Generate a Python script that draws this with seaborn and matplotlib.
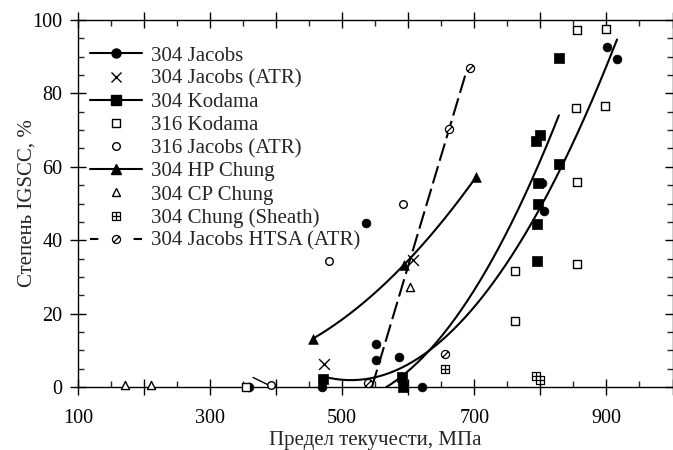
import numpy as np
import matplotlib
matplotlib.use("Agg")
import matplotlib.pyplot as plt
import seaborn as sns
from matplotlib.path import Path
from matplotlib.lines import Line2D
from matplotlib.ticker import FixedLocator, MultipleLocator, FuncFormatter

# ---------------- data ----------------
j304_x = [359, 469, 536, 551, 551, 586, 621, 805, 803, 901, 916]
j304_y = [0, 0, 44.8, 11.6, 7.4, 8.3, 0, 48.0, 55.7, 92.6, 89.5]

j304atr_x = [473, 607]
j304atr_y = [6.3, 34.6]

k304_x = [471, 590, 592, 795, 795, 796, 796, 794, 800, 828, 828]
k304_y = [2.2, 2.6, 0, 34.4, 44.4, 50.0, 55.7, 66.9, 68.7, 60.8, 89.7]

k316_x = [355, 762, 762, 855, 855, 855, 854, 899, 898]
k316_y = [0, 31.6, 18.0, 55.8, 33.4, 97.4, 75.9, 97.6, 76.6]

j316atr_x = [392, 480, 592]
j316atr_y = [0.6, 34.4, 49.8]

hp_x = [456, 593, 703]
hp_y = [13.2, 33.2, 57.3]

cp_x = [171, 211, 602]
cp_y = [0.5, 0.5, 27.3]

sheath_x = [656, 794, 799]
sheath_y = [5.0, 2.9, 1.8]

htsa_x = [539, 656, 662, 693]
htsa_y = [1.1, 9.1, 70.3, 86.9]

# trend curves
fitA_x = [476, 537, 592, 642, 801, 844, 916]
fitA_y = [2.2, 2.7, 5.4, 11.8, 48.4, 64.6, 95.0]
fitB_x = [566, 642, 766, 806, 828]
fitB_y = [0, 11.8, 48.4, 64.6, 73.7]
htsa_fit_x = [545, 688]
htsa_fit_y = [0, 86]
seg_x = [365, 390]
seg_y = [2.6, 0.4]

labels = ["304 Jacobs", "304 Jacobs (ATR)", "304 Kodama", "316 Kodama",
          "316 Jacobs (ATR)", "304 HP Chung", "304 CP Chung",
          "304 Chung (Sheath)", "304 Jacobs HTSA (ATR)"]

# ---------------- style ----------------
sns.set_style("ticks")
plt.rcParams["font.family"] = ["Liberation Serif", "DejaVu Serif"]
plt.rcParams["lines.scale_dashes"] = False
plt.rcParams["axes.linewidth"] = 1.0

fig = plt.figure(figsize=(6.73, 4.5), dpi=100)
L, R, T, B = 78, 672.5, 20.0, 387.0
ax = fig.add_axes([L / 673, 1 - B / 450, (R - L) / 673, (B - T) / 450])

# custom markers
sq_plus = Path([(-1, -1), (1, -1), (1, 1), (-1, 1), (-1, -1),
                (0, -1), (0, 1), (-1, 0), (1, 0)],
               [Path.MOVETO, Path.LINETO, Path.LINETO, Path.LINETO, Path.CLOSEPOLY,
                Path.MOVETO, Path.LINETO, Path.MOVETO, Path.LINETO])
slash_circ = Path.make_compound_path(
    Path.unit_circle(),
    Path([(-0.72, -0.72), (0.72, 0.72)], [Path.MOVETO, Path.LINETO]))

lw_curve = 1.5
black = "black"


def curve(xs, ys, deg=2, n=200):
    c = np.polyfit(xs, ys, deg)
    xx = np.linspace(min(xs), max(xs), n)
    return xx, np.polyval(c, xx)


# ---------------- curves ----------------
xa, ya = curve(fitA_x, fitA_y)
sns.lineplot(x=xa, y=ya, sort=False, estimator=None, color=black, lw=lw_curve, ax=ax, zorder=2)
xb, yb = curve(fitB_x, fitB_y)
sns.lineplot(x=xb, y=yb, sort=False, estimator=None, color=black, lw=lw_curve, ax=ax, zorder=2)
xh, yh = curve(hp_x, hp_y)
sns.lineplot(x=xh, y=yh, sort=False, estimator=None, color=black, lw=lw_curve, ax=ax, zorder=2)
sns.lineplot(x=htsa_fit_x, y=htsa_fit_y, sort=False, estimator=None, color=black,
             lw=lw_curve, linestyle=(0, (13, 4)), ax=ax, zorder=2)
sns.lineplot(x=seg_x, y=seg_y, sort=False, estimator=None, color=black, lw=1.0, ax=ax, zorder=2)

# ---------------- points ----------------
common = dict(ax=ax, clip_on=False, legend=False)
sns.scatterplot(x=j304_x, y=j304_y, marker="o", s=40, color=black, edgecolor=black,
                linewidth=0.5, zorder=3, **common)
sns.scatterplot(x=k304_x, y=k304_y, marker="s", s=44, color=black, edgecolor=black,
                linewidth=0.5, zorder=3, **common)
sns.scatterplot(x=hp_x, y=hp_y, marker="^", s=48, color=black, edgecolor=black,
                linewidth=0.5, zorder=3, **common)
sns.scatterplot(x=j304atr_x, y=j304atr_y, marker="x", s=60, color=black,
                linewidth=1.0, zorder=4, **common)
sns.scatterplot(x=k316_x, y=k316_y, marker="s", s=34, facecolor="white", edgecolor=black,
                linewidth=1.0, zorder=4, **common)
sns.scatterplot(x=j316atr_x, y=j316atr_y, marker="o", s=30, facecolor="white", edgecolor=black,
                linewidth=1.0, zorder=4, **common)
sns.scatterplot(x=cp_x, y=cp_y, marker="^", s=34, facecolor="white", edgecolor=black,
                linewidth=1.0, zorder=4, **common)
sns.scatterplot(x=sheath_x, y=sheath_y, marker=sq_plus, s=34, facecolor="white", edgecolor=black,
                linewidth=0.9, zorder=4, **common)
sns.scatterplot(x=htsa_x, y=htsa_y, marker=slash_circ, s=34, facecolor="white", edgecolor=black,
                linewidth=0.9, zorder=4, **common)

# ---------------- axes ----------------
ax.set_xlim(100, 1000)
ax.set_ylim(0, 100)
ax.xaxis.set_major_locator(FixedLocator(np.arange(100, 1001, 100)))
ax.xaxis.set_minor_locator(FixedLocator(np.arange(150, 1000, 100)))
ax.xaxis.set_major_formatter(FuncFormatter(
    lambda v, p: f"{int(round(v))}" if int(round(v)) % 200 == 100 and v < 1000 else ""))
ax.yaxis.set_major_locator(MultipleLocator(20))
ax.yaxis.set_minor_locator(MultipleLocator(5))
ax.tick_params(which="major", direction="inout", length=12, width=1.0,
               top=True, right=True, labelsize=14.5, colors=black)
ax.tick_params(which="minor", direction="in", length=4.5, width=1.0,
               top=True, right=True)
ax.tick_params(axis="x", which="major", pad=9.5)
ax.tick_params(axis="y", which="major", pad=5)
for sp in ax.spines.values():
    sp.set_visible(True)
    sp.set_color(black)
    sp.set_linewidth(1.0)

ax.set_xlabel("Предел текучести, МПа", fontsize=15, labelpad=2.5)
ax.set_ylabel("Степень IGSCC, %", fontsize=15, labelpad=-3)

# ---------------- legend ----------------
mk = dict(color=black, markersize=6.5)
handles = [
    Line2D([], [], marker="o", linestyle="-", lw=lw_curve, markerfacecolor=black, **mk),
    Line2D([], [], marker="x", linestyle="none", mew=1.0, **mk),
    Line2D([], [], marker="s", linestyle="-", lw=lw_curve, markerfacecolor=black, **mk),
    Line2D([], [], marker="s", linestyle="none", markerfacecolor="white", mew=1.0, color=black, markersize=5.8),
    Line2D([], [], marker="o", linestyle="none", markerfacecolor="white", mew=1.0, color=black, markersize=5.5),
    Line2D([], [], marker="^", linestyle="-", lw=lw_curve, markerfacecolor=black, **mk),
    Line2D([], [], marker="^", linestyle="none", markerfacecolor="white", mew=1.0, color=black, markersize=5.8),
    Line2D([], [], marker=sq_plus, linestyle="none", markerfacecolor="white", mew=0.9, color=black, markersize=5.8),
    Line2D([], [], marker=slash_circ, linestyle=(0, (6, 25.4)), lw=lw_curve, markerfacecolor="white",
           mew=0.9, color=black, markersize=5.8),
]
ax.legend(handles, labels, loc="upper left", bbox_to_anchor=(0.0202, 0.9286),
          frameon=False, numpoints=1,
          handlelength=2.5, handletextpad=0.43, labelspacing=0.17,
          borderaxespad=0.0, borderpad=0.0, fontsize=15)

fig.savefig("out.png", dpi=100)
